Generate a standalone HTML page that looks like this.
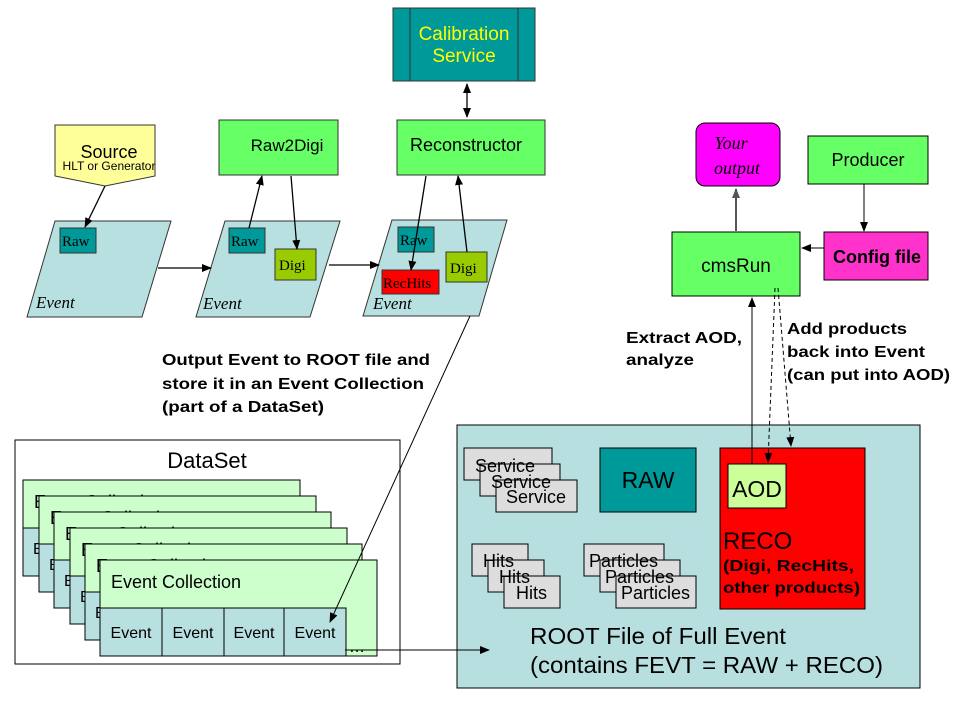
<!DOCTYPE html>
<html><head><meta charset="utf-8"><style>body{margin:0;background:#fff}svg{display:block}text{font-family:"Liberation Sans",sans-serif}.s{font-family:"Liberation Serif",serif}</style></head><body>
<svg width="960" height="720" viewBox="0 0 960 720" xmlns="http://www.w3.org/2000/svg">
<defs>
<marker id="a" markerWidth="10" markerHeight="10" refX="9" refY="5" orient="auto" markerUnits="userSpaceOnUse"><path d="M0,1 L10,5 L0,9 z" fill="#000"/></marker>
<marker id="b" markerWidth="10" markerHeight="10" refX="1" refY="5" orient="auto" markerUnits="userSpaceOnUse"><path d="M10,1 L0,5 L10,9 z" fill="#000"/></marker>
<marker id="g" markerWidth="10" markerHeight="10" refX="9" refY="5" orient="auto" markerUnits="userSpaceOnUse"><path d="M0,1 L10,5 L0,9 z" fill="#555"/></marker>
</defs>
<g stroke="#333" stroke-width="1">
<rect x="393" y="8" width="142" height="73" fill="#009999"/>
<line x1="410" y1="8" x2="410" y2="81"/><line x1="518" y1="8" x2="518" y2="81"/>
<rect x="397" y="120" width="148" height="55" fill="#66ff66"/>
<rect x="219" y="120" width="119" height="55" fill="#66ff66"/>
<path d="M55,125 H155 V176 L105,186 L55,176 Z" fill="#ffff99"/>
<path d="M55,221 H171 L142,317 H27 Z" fill="#b8e0e0"/>
<path d="M225,221 H340 L310,317 H196 Z" fill="#b8e0e0"/>
<path d="M392,220 H507 L479,316 H363 Z" fill="#b8e0e0"/>
<rect x="60" y="228" width="36" height="25" fill="#009999"/>
<rect x="229" y="228" width="36" height="25" fill="#009999"/>
<rect x="398" y="227" width="36" height="25" fill="#009999"/>
<rect x="275" y="249" width="41" height="31" fill="#99cc00"/>
<rect x="446" y="252" width="41" height="30" fill="#99cc00"/>
<rect x="382" y="270" width="57" height="24" fill="#ff0000"/>
</g>
<g font-size="19" fill="#ff0" text-anchor="middle"><text x="464" y="40">Calibration</text><text x="464" y="62">Service</text></g>
<text x="466" y="151" font-size="18" text-anchor="middle">Reconstructor</text>
<text x="287" y="151" font-size="17" text-anchor="middle">Raw2Digi</text>
<text x="109" y="158" font-size="18" text-anchor="middle">Source</text>
<text x="109" y="170" font-size="12" text-anchor="middle">HLT or Generator</text>
<g font-size="15"><text class="s" x="62" y="246">Raw</text><text class="s" x="231" y="246">Raw</text><text class="s" x="400" y="245">Raw</text><text class="s" x="279" y="270">Digi</text><text class="s" x="450" y="273">Digi</text><text class="s" x="383" y="288">RecHits</text></g>
<g font-size="17" font-style="italic"><text class="s" x="36" y="308">Event</text><text class="s" x="203" y="309">Event</text><text class="s" x="373" y="309">Event</text></g>
<g stroke="#000" stroke-width="1.3" fill="none">
<line x1="467" y1="84" x2="467" y2="117" marker-start="url(#b)" marker-end="url(#a)"/>
<line x1="105" y1="186" x2="85" y2="227" marker-end="url(#a)"/>
<line x1="158" y1="268" x2="211" y2="268" marker-end="url(#a)"/>
<line x1="329" y1="265" x2="379" y2="265" marker-end="url(#a)"/>
<line x1="249" y1="228" x2="262" y2="176" marker-end="url(#a)"/>
<line x1="291" y1="176" x2="297" y2="249" marker-end="url(#a)"/>
<line x1="426" y1="176" x2="411" y2="270" marker-end="url(#a)"/>
<line x1="467" y1="252" x2="458" y2="176" marker-end="url(#a)"/>
</g>
<g font-size="16" font-weight="bold"><text x="162" y="365" textLength="268" lengthAdjust="spacingAndGlyphs">Output Event to ROOT file and</text><text x="162" y="389" textLength="262" lengthAdjust="spacingAndGlyphs">store it in an Event Collection</text><text x="162" y="412" textLength="162" lengthAdjust="spacingAndGlyphs">(part of a DataSet)</text></g>
<rect x="15" y="440" width="385" height="224" fill="#fff" stroke="#000"/>
<text x="207" y="468" font-size="22" text-anchor="middle">DataSet</text>
<g stroke="#000" stroke-width="1" font-size="18">
<g transform="translate(23,480)"><rect width="277" height="48" fill="#ccffcc"/><rect y="48" width="277" height="48" fill="#b8e0e0"/><text x="11" y="28" stroke="none">Event Collection</text><text x="10" y="74" stroke="none" font-size="16">Event</text></g>
<g transform="translate(39,496)"><rect width="277" height="48" fill="#ccffcc"/><rect y="48" width="277" height="48" fill="#b8e0e0"/><text x="11" y="28" stroke="none">Event Collection</text><text x="10" y="74" stroke="none" font-size="16">Event</text></g>
<g transform="translate(54,512)"><rect width="277" height="48" fill="#ccffcc"/><rect y="48" width="277" height="48" fill="#b8e0e0"/><text x="11" y="28" stroke="none">Event Collection</text><text x="10" y="74" stroke="none" font-size="16">Event</text></g>
<g transform="translate(70,528)"><rect width="277" height="48" fill="#ccffcc"/><rect y="48" width="277" height="48" fill="#b8e0e0"/><text x="11" y="28" stroke="none">Event Collection</text><text x="10" y="74" stroke="none" font-size="16">Event</text></g>
<g transform="translate(85,544)"><rect width="277" height="48" fill="#ccffcc"/><rect y="48" width="277" height="48" fill="#b8e0e0"/><text x="11" y="28" stroke="none">Event Collection</text><text x="10" y="74" stroke="none" font-size="16">Event</text></g>
<g transform="translate(100,560)"><rect width="277" height="96" fill="#ccffcc"/>
<rect y="48" width="62" height="48" fill="#b8e0e0"/><rect x="62" y="48" width="62" height="48" fill="#b8e0e0"/><rect x="124" y="48" width="60" height="48" fill="#b8e0e0"/><rect x="184" y="48" width="62" height="48" fill="#b8e0e0"/>
<text x="11" y="28" stroke="none">Event Collection</text>
<g stroke="none" font-size="16" text-anchor="middle"><text x="31" y="78">Event</text><text x="93" y="78">Event</text><text x="154" y="78">Event</text><text x="215" y="78">Event</text></g>
<text x="249" y="92" stroke="none" font-size="16">…</text></g>
</g>
<g stroke="#000" stroke-width="1">
<rect x="457" y="425" width="463" height="263" fill="#b8dfe0"/>
<rect x="464" y="448" width="88" height="32" fill="#ddd"/><rect x="480" y="464" width="80" height="32" fill="#ddd"/><rect x="496" y="480" width="81" height="32" fill="#ddd"/>
<rect x="600" y="448" width="96" height="64" fill="#009999"/>
<rect x="720" y="448" width="145" height="161" fill="#ff0000"/>
<rect x="728" y="464" width="58" height="44" fill="#ccff99"/>
<rect x="472" y="544" width="56" height="32" fill="#ddd"/><rect x="488" y="560" width="56" height="32" fill="#ddd"/><rect x="504" y="576" width="56" height="32" fill="#ddd"/>
<rect x="584" y="544" width="80" height="32" fill="#ddd"/><rect x="600" y="560" width="80" height="32" fill="#ddd"/><rect x="616" y="576" width="80" height="32" fill="#ddd"/>
</g>
<g font-size="18"><text x="475" y="472">Service</text><text x="491" y="488">Service</text><text x="506" y="503">Service</text>
<text x="483" y="567">Hits</text><text x="499" y="583">Hits</text><text x="516" y="599">Hits</text>
<text x="589" y="567">Particles</text><text x="605" y="583">Particles</text><text x="621" y="599">Particles</text></g>
<text x="648" y="488" font-size="23" text-anchor="middle">RAW</text>
<text x="757" y="497" font-size="23" text-anchor="middle">AOD</text>
<text x="723" y="549" font-size="24">RECO</text>
<g font-size="16" font-weight="bold"><text x="723" y="571" textLength="131" lengthAdjust="spacingAndGlyphs">(Digi, RecHits,</text><text x="723" y="593" textLength="137" lengthAdjust="spacingAndGlyphs">other products)</text></g>
<g font-size="23"><text x="530" y="644" textLength="256" lengthAdjust="spacingAndGlyphs">ROOT File of Full Event</text><text x="530" y="673" textLength="353" lengthAdjust="spacingAndGlyphs">(contains FEVT = RAW + RECO)</text></g>
<g stroke="#000" stroke-width="1" fill="none">
<line x1="470" y1="316" x2="330" y2="622" marker-end="url(#a)"/>
<line x1="345" y1="650" x2="489" y2="650" marker-end="url(#a)"/>
</g>
<g stroke="#000" stroke-width="1">
<rect x="696" y="123" width="84" height="63" rx="9" fill="#ff00ff"/>
<rect x="672" y="232" width="128" height="64" fill="#66ff66"/>
<rect x="808" y="136" width="120" height="48" fill="#66ff66"/>
<rect x="824" y="232" width="104" height="48" fill="#ff33cc"/>
</g>
<g font-size="18" font-style="italic" text-anchor="middle"><text class="s" x="731" y="149">Your</text><text class="s" x="737" y="174">output</text></g>
<text x="736" y="272" font-size="19" text-anchor="middle">cmsRun</text>
<text x="868" y="166" font-size="18" text-anchor="middle">Producer</text>
<text x="877" y="263" font-size="18" font-weight="bold" text-anchor="middle">Config file</text>
<line x1="736" y1="231" x2="736" y2="189" stroke="#555" stroke-width="2" marker-end="url(#g)"/>
<line x1="864" y1="184" x2="864" y2="231" stroke="#000" marker-end="url(#a)"/>
<line x1="824" y1="248" x2="802" y2="248" stroke="#000" marker-end="url(#a)"/>
<line x1="752" y1="464" x2="752" y2="298" stroke="#000" marker-end="url(#a)"/>
<line x1="775" y1="288" x2="768" y2="462" stroke="#000" stroke-dasharray="4,3" marker-end="url(#a)"/>
<line x1="778" y1="288" x2="791" y2="446" stroke="#000" stroke-dasharray="4,3" marker-end="url(#a)"/>
<g font-size="16" font-weight="bold"><text x="626" y="343" textLength="116" lengthAdjust="spacingAndGlyphs">Extract AOD,</text><text x="626" y="365" textLength="68" lengthAdjust="spacingAndGlyphs">analyze</text>
<text x="787" y="334" textLength="120" lengthAdjust="spacingAndGlyphs">Add products</text><text x="787" y="357" textLength="138" lengthAdjust="spacingAndGlyphs">back into Event</text><text x="787" y="380" textLength="163" lengthAdjust="spacingAndGlyphs">(can put into AOD)</text></g>
</svg>
</body></html>
